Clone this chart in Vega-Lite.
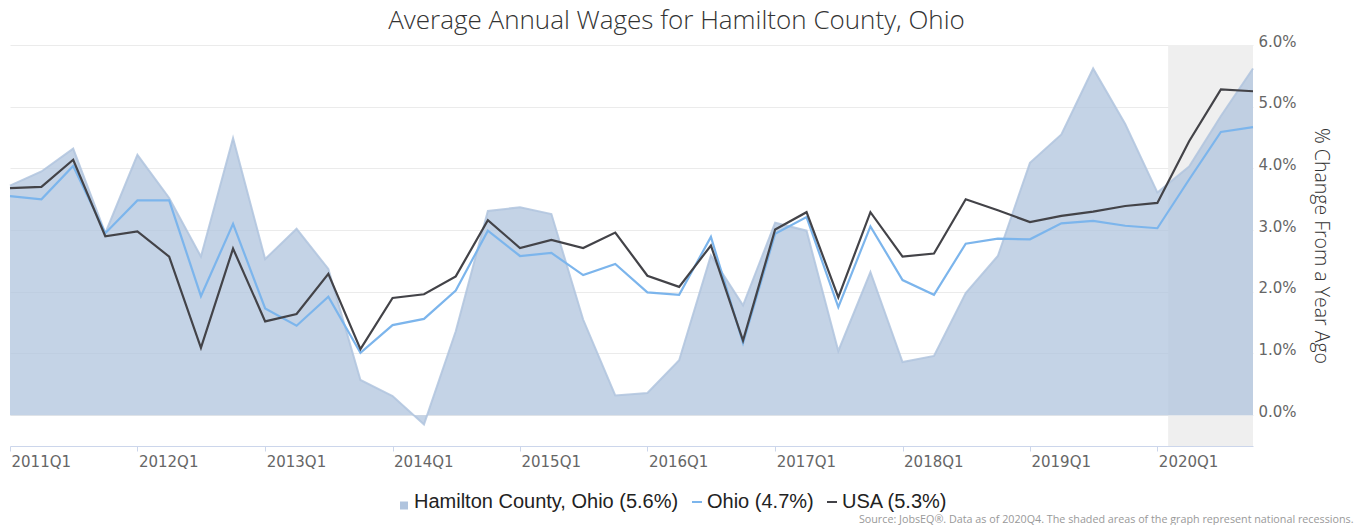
{
  "$schema": "https://vega.github.io/schema/vega-lite/v6.json",
  "width": 1243,
  "height": 401,
  "autosize": {"type": "none"},
  "padding": {"top": 45, "left": 10, "right": 108, "bottom": 79},
  "background": "white",
  "title": {
    "text": "Average Annual Wages for Hamilton County, Ohio",
    "font": "Open Sans",
    "fontWeight": 300,
    "fontSize": 26,
    "color": "#333333",
    "anchor": "middle",
    "dx": 45,
    "dy": 27,
    "baseline": "alphabetic",
    "offset": 6
  },
  "datasets": {
    "wages": [
      {"date": "2011-01-01", "series": "Hamilton County, Ohio", "value": 3.72},
      {"date": "2011-04-01", "series": "Hamilton County, Ohio", "value": 3.95},
      {"date": "2011-07-01", "series": "Hamilton County, Ohio", "value": 4.32},
      {"date": "2011-10-01", "series": "Hamilton County, Ohio", "value": 2.95},
      {"date": "2012-01-01", "series": "Hamilton County, Ohio", "value": 4.22},
      {"date": "2012-04-01", "series": "Hamilton County, Ohio", "value": 3.52},
      {"date": "2012-07-01", "series": "Hamilton County, Ohio", "value": 2.57},
      {"date": "2012-10-01", "series": "Hamilton County, Ohio", "value": 4.49},
      {"date": "2013-01-01", "series": "Hamilton County, Ohio", "value": 2.53},
      {"date": "2013-04-01", "series": "Hamilton County, Ohio", "value": 3.02},
      {"date": "2013-07-01", "series": "Hamilton County, Ohio", "value": 2.37},
      {"date": "2013-10-01", "series": "Hamilton County, Ohio", "value": 0.57},
      {"date": "2014-01-01", "series": "Hamilton County, Ohio", "value": 0.31},
      {"date": "2014-04-01", "series": "Hamilton County, Ohio", "value": -0.15},
      {"date": "2014-07-01", "series": "Hamilton County, Ohio", "value": 1.36},
      {"date": "2014-10-01", "series": "Hamilton County, Ohio", "value": 3.31},
      {"date": "2015-01-01", "series": "Hamilton County, Ohio", "value": 3.37},
      {"date": "2015-04-01", "series": "Hamilton County, Ohio", "value": 3.26},
      {"date": "2015-07-01", "series": "Hamilton County, Ohio", "value": 1.55},
      {"date": "2015-10-01", "series": "Hamilton County, Ohio", "value": 0.32},
      {"date": "2016-01-01", "series": "Hamilton County, Ohio", "value": 0.36},
      {"date": "2016-04-01", "series": "Hamilton County, Ohio", "value": 0.89},
      {"date": "2016-07-01", "series": "Hamilton County, Ohio", "value": 2.59},
      {"date": "2016-10-01", "series": "Hamilton County, Ohio", "value": 1.78},
      {"date": "2017-01-01", "series": "Hamilton County, Ohio", "value": 3.12},
      {"date": "2017-04-01", "series": "Hamilton County, Ohio", "value": 2.99},
      {"date": "2017-07-01", "series": "Hamilton County, Ohio", "value": 1.04},
      {"date": "2017-10-01", "series": "Hamilton County, Ohio", "value": 2.32},
      {"date": "2018-01-01", "series": "Hamilton County, Ohio", "value": 0.86},
      {"date": "2018-04-01", "series": "Hamilton County, Ohio", "value": 0.96},
      {"date": "2018-07-01", "series": "Hamilton County, Ohio", "value": 1.98},
      {"date": "2018-10-01", "series": "Hamilton County, Ohio", "value": 2.58},
      {"date": "2019-01-01", "series": "Hamilton County, Ohio", "value": 4.09},
      {"date": "2019-04-01", "series": "Hamilton County, Ohio", "value": 4.55},
      {"date": "2019-07-01", "series": "Hamilton County, Ohio", "value": 5.62},
      {"date": "2019-10-01", "series": "Hamilton County, Ohio", "value": 4.72},
      {"date": "2020-01-01", "series": "Hamilton County, Ohio", "value": 3.61},
      {"date": "2020-04-01", "series": "Hamilton County, Ohio", "value": 4.03},
      {"date": "2020-07-01", "series": "Hamilton County, Ohio", "value": 4.85},
      {"date": "2020-10-01", "series": "Hamilton County, Ohio", "value": 5.62},
      {"date": "2011-01-01", "series": "Ohio", "value": 3.55},
      {"date": "2011-04-01", "series": "Ohio", "value": 3.50},
      {"date": "2011-07-01", "series": "Ohio", "value": 4.04},
      {"date": "2011-10-01", "series": "Ohio", "value": 2.95},
      {"date": "2012-01-01", "series": "Ohio", "value": 3.48},
      {"date": "2012-04-01", "series": "Ohio", "value": 3.48},
      {"date": "2012-07-01", "series": "Ohio", "value": 1.93},
      {"date": "2012-10-01", "series": "Ohio", "value": 3.10},
      {"date": "2013-01-01", "series": "Ohio", "value": 1.73},
      {"date": "2013-04-01", "series": "Ohio", "value": 1.45},
      {"date": "2013-07-01", "series": "Ohio", "value": 1.92},
      {"date": "2013-10-01", "series": "Ohio", "value": 1.01},
      {"date": "2014-01-01", "series": "Ohio", "value": 1.46},
      {"date": "2014-04-01", "series": "Ohio", "value": 1.56},
      {"date": "2014-07-01", "series": "Ohio", "value": 2.02},
      {"date": "2014-10-01", "series": "Ohio", "value": 2.99},
      {"date": "2015-01-01", "series": "Ohio", "value": 2.58},
      {"date": "2015-04-01", "series": "Ohio", "value": 2.63},
      {"date": "2015-07-01", "series": "Ohio", "value": 2.27},
      {"date": "2015-10-01", "series": "Ohio", "value": 2.45},
      {"date": "2016-01-01", "series": "Ohio", "value": 1.99},
      {"date": "2016-04-01", "series": "Ohio", "value": 1.95},
      {"date": "2016-07-01", "series": "Ohio", "value": 2.89},
      {"date": "2016-10-01", "series": "Ohio", "value": 1.17},
      {"date": "2017-01-01", "series": "Ohio", "value": 2.94},
      {"date": "2017-04-01", "series": "Ohio", "value": 3.21},
      {"date": "2017-07-01", "series": "Ohio", "value": 1.75},
      {"date": "2017-10-01", "series": "Ohio", "value": 3.06},
      {"date": "2018-01-01", "series": "Ohio", "value": 2.19},
      {"date": "2018-04-01", "series": "Ohio", "value": 1.95},
      {"date": "2018-07-01", "series": "Ohio", "value": 2.78},
      {"date": "2018-10-01", "series": "Ohio", "value": 2.86},
      {"date": "2019-01-01", "series": "Ohio", "value": 2.85},
      {"date": "2019-04-01", "series": "Ohio", "value": 3.11},
      {"date": "2019-07-01", "series": "Ohio", "value": 3.15},
      {"date": "2019-10-01", "series": "Ohio", "value": 3.07},
      {"date": "2020-01-01", "series": "Ohio", "value": 3.03},
      {"date": "2020-04-01", "series": "Ohio", "value": 3.82},
      {"date": "2020-07-01", "series": "Ohio", "value": 4.59},
      {"date": "2020-10-01", "series": "Ohio", "value": 4.67},
      {"date": "2011-01-01", "series": "USA", "value": 3.68},
      {"date": "2011-04-01", "series": "USA", "value": 3.70},
      {"date": "2011-07-01", "series": "USA", "value": 4.14},
      {"date": "2011-10-01", "series": "USA", "value": 2.90},
      {"date": "2012-01-01", "series": "USA", "value": 2.98},
      {"date": "2012-04-01", "series": "USA", "value": 2.57},
      {"date": "2012-07-01", "series": "USA", "value": 1.09},
      {"date": "2012-10-01", "series": "USA", "value": 2.70},
      {"date": "2013-01-01", "series": "USA", "value": 1.52},
      {"date": "2013-04-01", "series": "USA", "value": 1.64},
      {"date": "2013-07-01", "series": "USA", "value": 2.29},
      {"date": "2013-10-01", "series": "USA", "value": 1.07},
      {"date": "2014-01-01", "series": "USA", "value": 1.90},
      {"date": "2014-04-01", "series": "USA", "value": 1.96},
      {"date": "2014-07-01", "series": "USA", "value": 2.25},
      {"date": "2014-10-01", "series": "USA", "value": 3.16},
      {"date": "2015-01-01", "series": "USA", "value": 2.71},
      {"date": "2015-04-01", "series": "USA", "value": 2.84},
      {"date": "2015-07-01", "series": "USA", "value": 2.71},
      {"date": "2015-10-01", "series": "USA", "value": 2.96},
      {"date": "2016-01-01", "series": "USA", "value": 2.26},
      {"date": "2016-04-01", "series": "USA", "value": 2.08},
      {"date": "2016-07-01", "series": "USA", "value": 2.75},
      {"date": "2016-10-01", "series": "USA", "value": 1.21},
      {"date": "2017-01-01", "series": "USA", "value": 3.01},
      {"date": "2017-04-01", "series": "USA", "value": 3.29},
      {"date": "2017-07-01", "series": "USA", "value": 1.91},
      {"date": "2017-10-01", "series": "USA", "value": 3.29},
      {"date": "2018-01-01", "series": "USA", "value": 2.57},
      {"date": "2018-04-01", "series": "USA", "value": 2.62},
      {"date": "2018-07-01", "series": "USA", "value": 3.50},
      {"date": "2018-10-01", "series": "USA", "value": 3.32},
      {"date": "2019-01-01", "series": "USA", "value": 3.13},
      {"date": "2019-04-01", "series": "USA", "value": 3.23},
      {"date": "2019-07-01", "series": "USA", "value": 3.30},
      {"date": "2019-10-01", "series": "USA", "value": 3.39},
      {"date": "2020-01-01", "series": "USA", "value": 3.44},
      {"date": "2020-04-01", "series": "USA", "value": 4.44},
      {"date": "2020-07-01", "series": "USA", "value": 5.28},
      {"date": "2020-10-01", "series": "USA", "value": 5.25}
    ],
    "recessions": [
      {"start": "2020-02-01", "end": "2020-10-01"}
    ]
  },
  "layer": [
    {
      "data": {"name": "recessions"},
      "mark": {"type": "rect", "color": "#efefef"},
      "encoding": {
        "x": {
          "field": "start",
          "type": "temporal",
          "scale": {
            "type": "utc",
            "domain": [
              {"year": 2011, "month": 1, "date": 1, "utc": true},
              {"year": 2020, "month": 10, "date": 1, "utc": true}
            ]
          },
          "axis": {
            "title": "Source: JobsEQ®. Data as of 2020Q4. The shaded areas of the graph represent national recessions.",
            "values": [
              {"year": 2011, "month": 1, "date": 1, "utc": true},
              {"year": 2012, "month": 1, "date": 1, "utc": true},
              {"year": 2013, "month": 1, "date": 1, "utc": true},
              {"year": 2014, "month": 1, "date": 1, "utc": true},
              {"year": 2015, "month": 1, "date": 1, "utc": true},
              {"year": 2016, "month": 1, "date": 1, "utc": true},
              {"year": 2017, "month": 1, "date": 1, "utc": true},
              {"year": 2018, "month": 1, "date": 1, "utc": true},
              {"year": 2019, "month": 1, "date": 1, "utc": true},
              {"year": 2020, "month": 1, "date": 1, "utc": true}
            ]
          }
        },
        "x2": {"field": "end"}
      }
    },
    {
      "data": {"name": "wages"},
      "transform": [{"filter": "datum.series == 'Hamilton County, Ohio'"}],
      "mark": {"type": "area", "opacity": 0.75},
      "encoding": {
        "x": {"field": "date", "type": "temporal"},
        "y": {
          "field": "value",
          "type": "quantitative",
          "scale": {"domain": [-0.5, 6], "nice": false, "zero": false},
          "axis": {
            "title": "% Change From a Year Ago",
            "values": [0, 0.5, 1, 1.5, 2, 2.5, 3, 3.5, 4, 4.5, 5, 5.5, 6],
            "labelExpr": "datum.value % 1 == 0 ? format(datum.value, '.1f') + '%' : ''"
          }
        },
        "y2": {"datum": 0},
        "color": {
          "field": "series",
          "type": "nominal",
          "scale": {
            "domain": ["Hamilton County, Ohio", "Ohio", "USA"],
            "range": ["#b0c4de", "#7cb5ec", "#434348"]
          },
          "legend": {
            "title": null,
            "labelExpr": "datum.label == 'Ohio' ? 'Ohio (4.7%)' : datum.label == 'USA' ? 'USA (5.3%)' : 'Hamilton County, Ohio (5.6%)'"
          }
        }
      }
    },
    {
      "data": {"name": "wages"},
      "transform": [{"filter": "datum.series == 'Hamilton County, Ohio'"}],
      "mark": {"type": "line", "strokeWidth": 2, "opacity": 0.85},
      "encoding": {
        "x": {"field": "date", "type": "temporal"},
        "y": {"field": "value", "type": "quantitative"},
        "color": {"field": "series", "type": "nominal"}
      }
    },
    {
      "data": {"name": "wages"},
      "transform": [{"filter": "datum.series != 'Hamilton County, Ohio'"}],
      "mark": {"type": "line", "strokeWidth": 2.2},
      "encoding": {
        "x": {"field": "date", "type": "temporal"},
        "y": {"field": "value", "type": "quantitative"},
        "color": {"field": "series", "type": "nominal"}
      }
    },
    {
      "data": {"name": "wages"},
      "transform": [{"filter": "datum.date == '2020-10-01' && datum.series != 'USA'"}],
      "mark": {"type": "point", "filled": true, "shape": "triangle-up", "size": 28, "opacity": 1},
      "encoding": {
        "x": {"field": "date", "type": "temporal"},
        "y": {"field": "value", "type": "quantitative"},
        "color": {"field": "series", "type": "nominal"}
      }
    },
    {
      "data": {"name": "wages"},
      "transform": [{"filter": "datum.date == '2020-10-01' && datum.series == 'USA'"}],
      "mark": {"type": "point", "filled": true, "shape": "triangle-right", "size": 28, "opacity": 1},
      "encoding": {
        "x": {"field": "date", "type": "temporal"},
        "y": {"field": "value", "type": "quantitative"},
        "color": {"field": "series", "type": "nominal"}
      }
    },
    {
      "data": {"name": "wages"},
      "mark": {"type": "point", "filled": true, "opacity": 0},
      "encoding": {
        "x": {"field": "date", "type": "temporal"},
        "y": {"field": "value", "type": "quantitative"},
        "color": {"field": "series", "type": "nominal"},
        "shape": {
          "field": "series",
          "type": "nominal",
          "legend": {
            "title": null,
            "labelExpr": "datum.label == 'Ohio' ? 'Ohio (4.7%)' : datum.label == 'USA' ? 'USA (5.3%)' : 'Hamilton County, Ohio (5.6%)'"
          },
          "scale": {
            "domain": ["Hamilton County, Ohio", "Ohio", "USA"],
            "range": ["M-0.8,-0.1H0.8V1.5H-0.8Z", "M-1,-0.2H1V0.2H-1Z", "M-1,-0.2H1V0.2H-1Z"]
          }
        }
      }
    }
  ],
  "config": {
    "view": {"stroke": null},
    "axisX": {
      "orient": "bottom",
      "format": "%YQ%q",
      "formatType": "utc",
      "grid": false,
      "domainColor": "#ccd6eb",
      "domainWidth": 1,
      "tickColor": "#ccd6eb",
      "tickSize": 5,
      "labelFont": "DejaVu Sans",
      "labelFontSize": 15,
      "labelColor": "#666666",
      "labelAlign": "left",
      "labelBaseline": "alphabetic",
      "labelPadding": 15,
      "labelOffset": 1,
      "labelOverlap": false,
      "labelFlush": false,
      "titleFont": "Open Sans",
      "titleFontSize": 10.75,
      "titleFontWeight": "normal",
      "titleColor": "#999999",
      "titleAlign": "right",
      "titleAnchor": "end",
      "titleBaseline": "alphabetic",
      "titleX": 1343,
      "titleY": 76
    },
    "axisY": {
      "orient": "right",
      "grid": true,
      "gridColor": "#ebebeb",
      "gridWidth": 1,
      "domain": false,
      "ticks": false,
      "labelFont": "DejaVu Sans",
      "labelFontSize": 15,
      "labelColor": "#666666",
      "labelAlign": "left",
      "labelBaseline": "alphabetic",
      "labelPadding": 5,
      "labelOffset": 1,
      "labelOverlap": false,
      "labelFlush": false,
      "titleFont": "Open Sans",
      "titleFontSize": 19.5,
      "titleFontWeight": 300,
      "titleColor": "#333333",
      "titlePadding": 14
    },
    "legend": {
      "orient": "none",
      "legendX": 384,
      "legendY": 447,
      "direction": "horizontal",
      "padding": 0,
      "symbolSize": 100,
      "symbolStrokeWidth": 0,
      "symbolOpacity": 1,
      "labelFont": "Liberation Sans",
      "labelFontSize": 20,
      "labelColor": "#222222",
      "labelOffset": 0,
      "columnPadding": 8,
      "labelLimit": 400
    }
  }
}
